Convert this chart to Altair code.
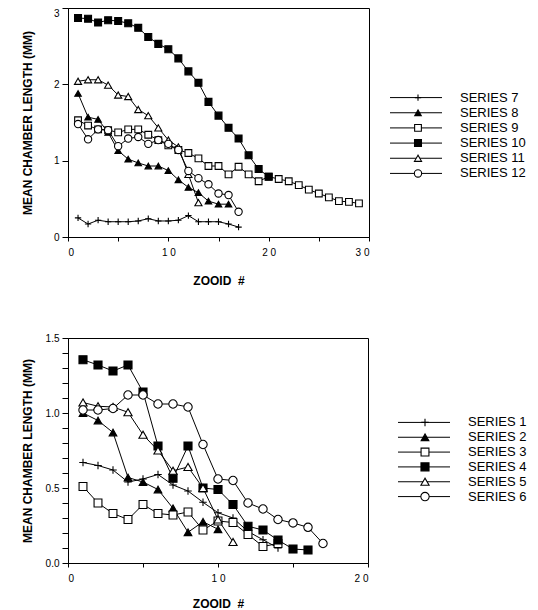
import altair as alt
import pandas as pd

FONT = "Liberation Sans"

# ---------------- top panel data (zooid 1..n) ----------------
TOP_NAMES = ["SERIES 7", "SERIES 8", "SERIES 9", "SERIES 10", "SERIES 11", "SERIES 12"]
s7 = [0.25, 0.17, 0.22, 0.20, 0.20, 0.20, 0.21, 0.24, 0.21, 0.21, 0.22, 0.28, 0.20, 0.20, 0.20, 0.17, 0.13]
s8 = [1.88, 1.57, 1.54, 1.37, 1.13, 1.02, 0.97, 0.93, 0.93, 0.87, 0.75, 0.65, 0.58, 0.47, 0.43, 0.43]
s9 = [1.53, 1.46, 1.41, 1.40, 1.37, 1.41, 1.41, 1.34, 1.27, 1.20, 1.14, 1.10, 1.03, 0.93, 0.93,
      0.82, 0.92, 0.82, 0.73, 0.79, 0.76, 0.73, 0.68, 0.62, 0.57, 0.52, 0.47, 0.46, 0.44]
s10 = [2.87, 2.86, 2.81, 2.84, 2.83, 2.80, 2.74, 2.62, 2.53, 2.46, 2.34, 2.17, 2.02, 1.77, 1.59,
       1.43, 1.29, 1.07, 0.89, 0.79]
s11 = [2.04, 2.06, 2.06, 1.99, 1.86, 1.84, 1.67, 1.59, 1.43, 1.27, 1.18, 0.82, 0.45]
s12 = [1.48, 1.28, 1.41, 1.40, 1.19, 1.29, 1.31, 1.22, 1.27, 1.22, 1.14, 0.865, 0.77, 0.69, 0.57, 0.55, 0.33]
TOP_SERIES = [s7, s8, s9, s10, s11, s12]

# ---------------- bottom panel data ----------------
BOT_NAMES = ["SERIES 1", "SERIES 2", "SERIES 3", "SERIES 4", "SERIES 5", "SERIES 6"]
b1 = [0.67, 0.65, 0.62, 0.54, 0.56, 0.59, 0.52, 0.48, 0.405, 0.335, 0.30, 0.21, 0.155, 0.10]
b2 = [1.00, 0.95, 0.87, 0.57, 0.54, 0.49, 0.365, 0.205, 0.275, 0.225]
b3 = [0.51, 0.40, 0.33, 0.29, 0.39, 0.33, 0.32, 0.34, 0.22, 0.28, 0.27, 0.19, 0.11, 0.13]
b4 = [1.355, 1.32, 1.28, 1.32, 1.14, 0.78, 0.565, 0.78, 0.50, 0.49, 0.39, 0.245, 0.22, 0.153, 0.093, 0.087]
b5 = [1.07, 1.045, 1.04, 1.005, 0.855, 0.75, 0.615, 0.64, 0.50, 0.29, 0.14]
b6 = [1.02, 1.02, 1.03, 1.12, 1.12, 1.06, 1.06, 1.04, 0.79, 0.56, 0.55, 0.40, 0.36, 0.29, 0.267, 0.238, 0.13]
BOT_SERIES = [b1, b2, b3, b4, b5, b6]

# axis ticks
TOP_X_TICKS = [0, 5, 10, 15, 20, 25, 30]
TOP_Y_TICKS = [0, 0.5, 1, 1.5, 2, 2.5, 3]
BOT_X_TICKS = [0, 5, 10, 15, 20]
BOT_Y_TICKS = [0, 0.1, 0.2, 0.3, 0.4, 0.5, 0.6, 0.7, 0.8, 0.9, 1.0, 1.1, 1.2, 1.3, 1.4, 1.5]

PLUS = "M-1,0L1,0M0,-1L0,1"
SHAPES = [PLUS, "triangle-up", "square", "square", "triangle-up", "circle"]
FILLS = ["white", "black", "white", "black", "white", "white"]


def long_df(names, series):
    rows = []
    for name, vals in zip(names, series):
        for i, v in enumerate(vals, start=1):
            rows.append({"series": name, "zooid": i, "length": v})
    return pd.DataFrame(rows)


XLAB = ("datum.value % 10 == 0 ? (datum.value >= 10 ? substring(datum.label,0,1) + ' ' + "
        "substring(datum.label,1) : datum.label) : ''")


def panel(df, names, xdom, ydom, xticks, yticks, w, h, sizes, yfmt, ylab, ytitlepad,
          xtitlepad, ybaseline):
    x = alt.X("zooid:Q", scale=alt.Scale(domain=xdom, nice=False, zero=False),
              axis=alt.Axis(values=xticks, labelExpr=XLAB, format="d", title="ZOOID\u00a0\u00a0#",
                            grid=False, tickSize=4, labelPadding=6, titlePadding=xtitlepad))
    y = alt.Y("length:Q", scale=alt.Scale(domain=ydom, nice=False),
              axis=alt.Axis(values=yticks, labelExpr=ylab, format=yfmt,
                            title="MEAN CHAMBER LENGTH (MM)", grid=False, tickSize=6,
                            labelPadding=3, titlePadding=ytitlepad, labelBaseline=ybaseline))
    base = alt.Chart(df)
    lines = base.mark_line(color="black", strokeWidth=1).encode(
        x=x, y=y, detail="series:N", order="zooid:Q")
    pts = base.mark_point(stroke="black", strokeWidth=1.1, opacity=1).encode(
        x=x, y=y,
        shape=alt.Shape("series:N", scale=alt.Scale(domain=names, range=SHAPES), legend=None),
        fill=alt.Fill("series:N", scale=alt.Scale(domain=names, range=FILLS), legend=None),
        size=alt.Size("series:N", scale=alt.Scale(domain=names, range=sizes), legend=None),
    )
    return alt.layer(lines, pts).properties(width=w, height=h)


def legend_panel(names, yrange, h, x0, x1, xm, xt, sizes):
    ldf = pd.DataFrame({"series": names})
    y = alt.Y("series:N", scale=alt.Scale(domain=names, range=yrange, padding=0), axis=None)
    base = alt.Chart(ldf)
    rule = base.mark_rule(color="black", strokeWidth=1).encode(
        x=alt.value(x0), x2=alt.value(x1), y=y)
    pts = base.mark_point(stroke="black", strokeWidth=1.1, opacity=1).encode(
        x=alt.value(xm), y=y,
        shape=alt.Shape("series:N", scale=alt.Scale(domain=names, range=SHAPES), legend=None),
        fill=alt.Fill("series:N", scale=alt.Scale(domain=names, range=FILLS), legend=None),
        size=alt.Size("series:N", scale=alt.Scale(domain=names, range=sizes), legend=None),
    )
    txt = base.mark_text(align="left", baseline="middle", fontSize=13, font=FONT,
                         color="black").encode(x=alt.value(xt), y=y, text="series:N")
    return alt.layer(rule, pts, txt).properties(
        width=145, height=h, view=alt.ViewBackground(stroke="transparent"))


TOP_SIZES = [40, 70, 64, 64, 70, 64]
BOT_SIZES = [50, 76, 72, 72, 76, 72]

TOP_BASELINE = {"condition": {"test": "datum.value == 3", "value": "top"}, "value": "middle"}

top = panel(long_df(TOP_NAMES, TOP_SERIES), TOP_NAMES, [0, 30], [0, 3], TOP_X_TICKS, TOP_Y_TICKS,
            301, 229, TOP_SIZES, "d", "datum.value % 1 == 0 ? datum.label : ''", 19, 18,
            TOP_BASELINE)
bot = panel(long_df(BOT_NAMES, BOT_SERIES), BOT_NAMES, [0, 20], [0, 1.5], BOT_X_TICKS, BOT_Y_TICKS,
            300, 225, BOT_SIZES, ".1f", "round(datum.value*10) % 5 == 0 ? datum.label : ''", 11, 15,
            "middle")

top_leg = legend_panel(TOP_NAMES, [82, 173], 229, 19, 71, 47, 89, TOP_SIZES)
bot_leg = legend_panel(BOT_NAMES, [77, 166], 225, 27, 79, 54, 97, BOT_SIZES)

chart = alt.concat(top, top_leg, bot, bot_leg, columns=2,
                   spacing={"row": 45, "column": 0}).properties(
    padding={"left": 12, "top": -1, "right": 0, "bottom": 0}
).configure_view(stroke="black", strokeWidth=1).configure_axis(
    domainColor="black", tickColor="black", labelColor="black", titleColor="black",
    labelFont=FONT, titleFont=FONT, labelFontSize=10, titleFontSize=12,
    titleFontWeight="bold", domainWidth=1, tickWidth=1
)

chart.save("out.html", embed_options={"renderer": "svg", "actions": False})
